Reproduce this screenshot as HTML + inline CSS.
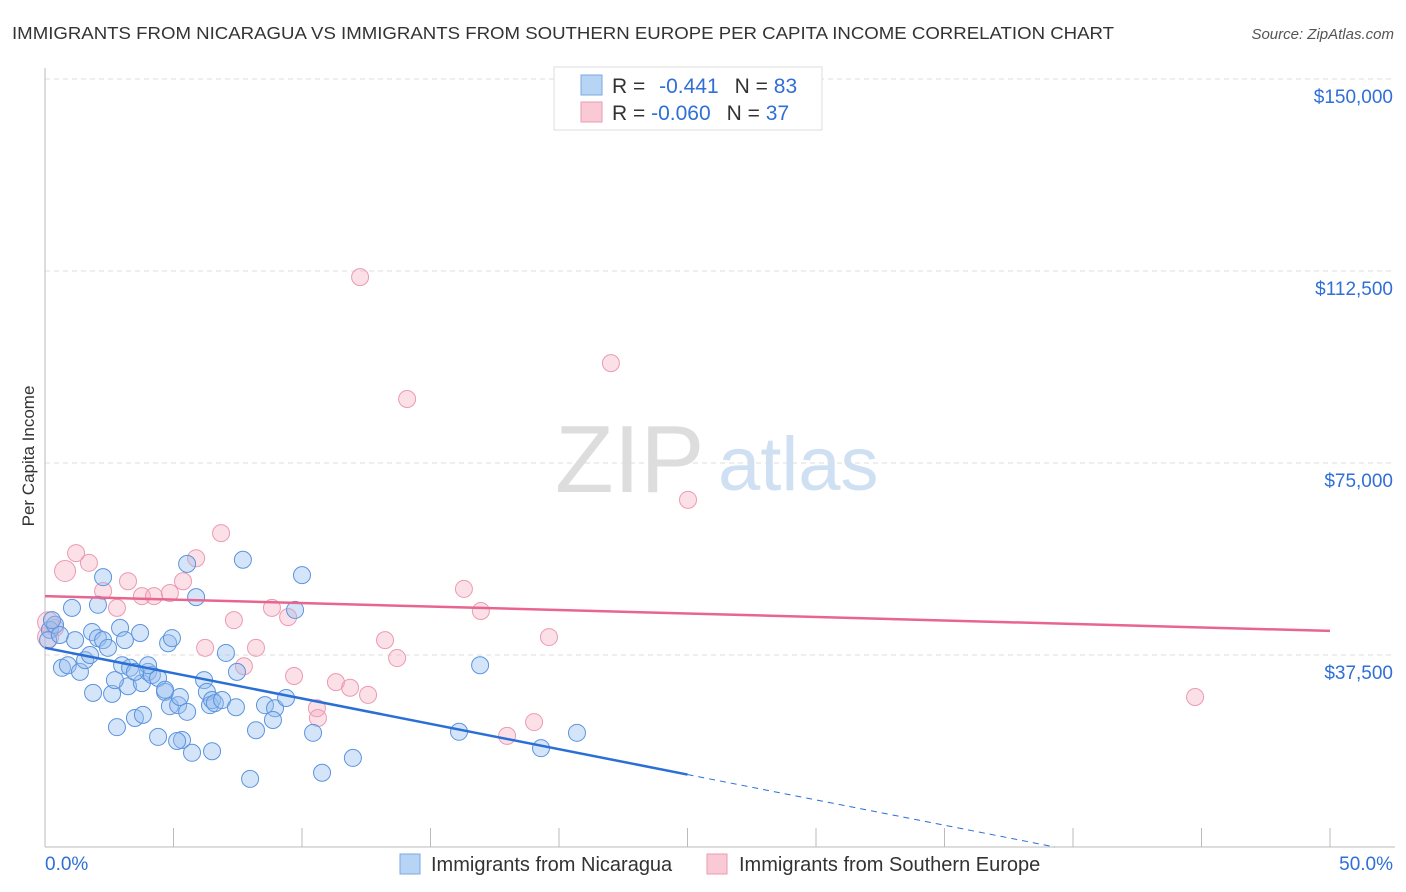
<!DOCTYPE html>
<html><head><meta charset="utf-8"><style>
body{margin:0;background:#fff;font-family:"Liberation Sans",sans-serif;}
#wrap{position:relative;width:1406px;height:892px;overflow:hidden;}
svg text{font-family:"Liberation Sans",sans-serif;}
</style></head><body>
<div id="wrap">
<svg id="chart" width="1406" height="892">
<text x="12" y="39" font-size="17.5" fill="#333" textLength="1102" lengthAdjust="spacingAndGlyphs">IMMIGRANTS FROM NICARAGUA VS IMMIGRANTS FROM SOUTHERN EUROPE PER CAPITA INCOME CORRELATION CHART</text>
<text x="1394" y="39" font-size="15" fill="#555" font-style="italic" text-anchor="end">Source: ZipAtlas.com</text>
<text x="555" y="492" font-size="96" fill="#ddd" font-family="Liberation Serif">ZIP</text>
<text x="718" y="490" font-size="76" fill="#cfe0f3">atlas</text>
<text x="34" y="456" font-size="17" fill="#333" transform="rotate(-90 34 456)" text-anchor="middle">Per Capita Income</text>
<g id="grid"></g><g id="marks"></g>
<g>
<rect x="554" y="67" width="268" height="63" fill="#fff" stroke="#ddd"/>
<rect x="581" y="75" width="21" height="20" fill="#b8d4f5" stroke="#7aa9e3"/>
<rect x="581" y="102" width="21" height="20" fill="#f9c9d6" stroke="#ec9ab2"/>
<text x="612" y="93" font-size="21" fill="#333">R = <tspan fill="#2f6fd6" dx="8">-0.441</tspan><tspan dx="16" fill="#333">N = </tspan><tspan fill="#2f6fd6">83</tspan></text>
<text x="612" y="120" font-size="21" fill="#333">R = <tspan fill="#2f6fd6">-0.060</tspan><tspan dx="16" fill="#333">N = </tspan><tspan fill="#2f6fd6">37</tspan></text>
</g>
<g>
<rect x="400" y="854" width="20" height="20" fill="#b8d4f5" stroke="#7aa9e3"/>
<text x="431" y="871" font-size="20" fill="#333">Immigrants from Nicaragua</text>
<rect x="707" y="854" width="20" height="20" fill="#f9c9d6" stroke="#ec9ab2"/>
<text x="739" y="871" font-size="20" fill="#333">Immigrants from Southern Europe</text>
</g>
</svg></div>
<script>
const yTicks=[37500,75000,112500,150000];
const yTickLabels=["$37,500","$75,000","$112,500","$150,000"];
const xTickLabels=["0.0%","50.0%"];
const blueX=[0.19,0.39,0.12,0.58,0.27,1.05,2.06,2.26,0.66,0.89,1.17,1.36,1.56,1.75,1.83,2.06,2.26,2.45,2.61,1.87,2.92,3.11,3.00,3.31,2.80,3.23,2.72,3.50,3.81,3.70,3.77,4.01,4.16,4.40,4.40,4.67,4.79,4.94,4.86,5.18,5.25,5.33,5.14,5.53,5.72,5.53,5.88,6.19,6.30,6.42,6.50,6.50,6.61,6.89,7.04,7.43,7.47,7.70,7.98,8.21,8.56,8.95,8.87,9.38,9.73,10.00,10.43,10.78,11.98,16.11,16.93,19.30,20.70,4.01,3.50,4.67];
const blueY=[42.4,43.4,40.4,41.4,44.3,46.7,47.3,52.7,35.0,35.5,40.4,34.2,36.5,37.5,42.0,40.8,40.4,38.9,29.9,30.1,42.8,40.4,35.5,35.0,23.4,31.4,32.6,25.2,25.8,41.8,32.0,34.2,33.6,33.0,21.5,30.3,39.8,40.8,27.5,27.7,29.3,20.9,20.7,26.4,18.4,55.3,48.8,32.6,30.3,27.7,28.7,18.7,28.1,28.7,37.9,27.3,34.2,56.1,13.3,22.8,27.7,27.1,24.8,29.1,46.3,53.1,22.3,14.5,17.4,22.5,35.5,19.3,22.3,35.5,34.2,30.7];
const pinkX=[0.12,0.39,0.12,0.78,1.21,1.71,2.26,2.80,3.23,3.77,4.24,4.86,5.37,5.88,6.23,6.85,7.35,7.74,8.21,8.83,9.46,9.69,10.58,10.62,11.32,11.87,12.57,12.26,13.23,13.70,14.09,16.30,16.96,17.98,19.03,19.61,22.02,25.02,44.75];
const pinkY=[43.9,42.8,41.0,53.9,57.4,55.5,50.0,46.7,51.9,49.0,49.0,49.6,51.9,56.4,38.9,61.3,44.3,35.3,38.9,46.7,44.9,33.4,27.1,25.2,32.2,31.1,29.7,111.3,40.4,36.9,87.5,50.4,46.1,21.7,24.4,41.0,94.5,67.8,29.3];
const blueTrend=[38.9,-0.99];
const pinkTrend=[49.0,-0.136];
const NS="http://www.w3.org/2000/svg";
const X=v=>45+v*25.7;
const Y=v=>847-v/195.3;
function mk(t,a,p){const e=document.createElementNS(NS,t);for(const k in a)e.setAttribute(k,a[k]);p.appendChild(e);return e;}
const grid=document.getElementById('grid'),marks=document.getElementById('marks');
yTicks.forEach((t,i)=>{
 const l=mk('line',{x1:45,x2:1395,y1:Y(t),y2:Y(t),stroke:'#ddd','stroke-dasharray':'5,4'},grid);
 
 
 const tx=mk('text',{x:1393,y:Y(t)+24,'font-size':19,fill:'#2f6fd6','text-anchor':'end'},grid);
 tx.textContent=yTickLabels[i];
 
 
});
const ya=mk('line',{x1:45,x2:45,y1:68,y2:847,stroke:'#bbb'},grid);


const xa=mk('line',{x1:45,x2:1395,y1:847,y2:847,stroke:'#bbb'},grid);


for(let i=0;i<=10;i++){const tk=mk('line',{x1:X(i*5),x2:X(i*5),y1:828,y2:847,stroke:'#bbb'},grid);
 
 }
const x0=mk('text',{x:45,y:870,'font-size':19,fill:'#2f6fd6'},grid);x0.textContent=xTickLabels[0];


const x1=mk('text',{x:1393,y:870,'font-size':19,fill:'#2f6fd6','text-anchor':'end'},grid);x1.textContent=xTickLabels[1];


pinkX.forEach((v,i)=>{const c=mk('circle',{cx:X(v),cy:Y(pinkY[i]*1000),r:(v<1&&i!=1)?10.5:8.5,fill:'rgba(244,167,190,0.35)',stroke:'#ec9ab2','stroke-width':1},marks);
 
 });
blueX.forEach((v,i)=>{const c=mk('circle',{cx:X(v),cy:Y(blueY[i]*1000),r:8.5,fill:'rgba(150,190,240,0.4)',stroke:'#5b94de','stroke-width':1},marks);
 
 });
const pt=mk('line',{x1:X(0),y1:Y(pinkTrend[0]*1000),x2:X(50),y2:Y((pinkTrend[0]+pinkTrend[1]*50)*1000),stroke:'#e8658f','stroke-width':2.5},marks);


const bt=mk('line',{x1:X(0),y1:Y(blueTrend[0]*1000),x2:X(25),y2:Y((blueTrend[0]+blueTrend[1]*25)*1000),stroke:'#2a6fd6','stroke-width':2.5},marks);


const xEnd=-blueTrend[0]/blueTrend[1];
const bd=mk('line',{x1:X(25),y1:Y((blueTrend[0]+blueTrend[1]*25)*1000),x2:X(xEnd),y2:Y(0),stroke:'#2a6fd6','stroke-width':1,'stroke-dasharray':'6,5'},marks);


</script>
</body></html>
